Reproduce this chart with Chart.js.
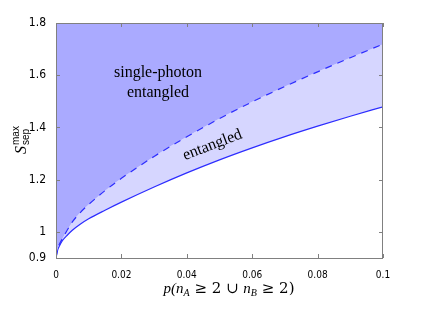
<!DOCTYPE html>
<html lang="en">
<head>
    <meta charset="UTF-8">
    <title>S_sep max</title>
    <style>
        html, body { margin: 0; padding: 0; background: #fff; }
        #wrap { width: 436px; height: 314px; }
    </style>
    <script src="https://cdn.jsdelivr.net/npm/chart.js"></script>
</head>
<body>
    <div id="wrap"><canvas id="chart" width="436" height="314"></canvas></div>

    <script>
        // values
        const pValues = [0, 0.0005, 0.001, 0.002, 0.0035, 0.005, 0.0075, 0.01, 0.015, 0.02, 0.03, 0.04, 0.05, 0.06, 0.07, 0.08, 0.09, 0.1];
        const entangledBound = [0.9, 0.93, 0.945, 0.967, 0.988, 1.006, 1.03, 1.05, 1.083, 1.114, 1.172, 1.226, 1.276, 1.322, 1.365, 1.405, 1.443, 1.479];
        const singlePhotonBound = [0.9, 0.936, 0.952, 0.975, 1.008, 1.038, 1.075, 1.105, 1.158, 1.205, 1.289, 1.364, 1.434, 1.498, 1.557, 1.613, 1.667, 1.719];
        const xTicks = [0, 0.02, 0.04, 0.06, 0.08, 0.1];
        const yTicks = [0.9, 1, 1.2, 1.4, 1.6, 1.8];

        const lineBlue = 'rgb(45,45,255)';
        const frameGrey = '#808080';
        const tickFamily = '"Liberation Sans Narrow", "DejaVu Sans Condensed", "Liberation Sans"';

        const toPoints = (ys) => pValues.map((p, i) => ({ x: p, y: ys[i] }));

        // frame, inward ticks and the math-style texts
        const decorations = {
            id: 'decorations',
            afterDraw(chart) {
                const ctx = chart.ctx;
                const a = chart.chartArea;
                const xs = chart.scales.x;
                const ys = chart.scales.y;
                ctx.save();
                ctx.strokeStyle = frameGrey;
                ctx.lineWidth = 1;
                ctx.strokeRect(a.left + 0.5, a.top + 0.5, a.right - a.left - 1, a.bottom - a.top);
                ctx.beginPath();
                xTicks.forEach(v => {
                    const px = Math.round(xs.getPixelForValue(v)) + 0.5;
                    ctx.moveTo(px, a.bottom); ctx.lineTo(px, a.bottom - 4);
                    ctx.moveTo(px, a.top); ctx.lineTo(px, a.top + 4);
                });
                yTicks.forEach(v => {
                    const py = Math.round(ys.getPixelForValue(v)) + 0.5;
                    ctx.moveTo(a.left, py); ctx.lineTo(a.left + 4, py);
                    ctx.moveTo(a.right, py); ctx.lineTo(a.right - 4, py);
                });
                ctx.stroke();

                // region labels
                ctx.fillStyle = '#000';
                ctx.font = '16px "Liberation Serif"';
                ctx.textAlign = 'center';
                ctx.textBaseline = 'alphabetic';
                ctx.fillText('single-photon', 158, 77);
                ctx.fillText('entangled', 158, 97);
                ctx.save();
                ctx.translate(214, 149);
                ctx.rotate(-21 * Math.PI / 180);
                ctx.fillText('entangled', 0, 0);
                ctx.restore();

                // y title: S_sep^max
                ctx.save();
                ctx.translate(26, 154);
                ctx.rotate(-Math.PI / 2);
                ctx.textAlign = 'left';
                ctx.font = 'italic 16px "Liberation Serif"';
                ctx.fillText('S', 0, 0);
                const sw = ctx.measureText('S').width;
                ctx.font = '10px "Liberation Sans"';
                ctx.fillText('max', sw + 1, -7);
                ctx.fillText('sep', sw + 1, 3);
                ctx.restore();

                // x title: p(n_A >= 2 U n_B >= 2)
                const parts = [
                    ['p(', 'italic 15px "Liberation Serif"', 0],
                    ['n', 'italic 15px "Liberation Serif"', 0],
                    ['A', 'italic 10px "Liberation Serif"', 3],
                    [' \u2265 2 \u222A ', '15px "DejaVu Serif"', 0],
                    ['n', 'italic 15px "Liberation Serif"', 0],
                    ['B', 'italic 10px "Liberation Serif"', 3],
                    [' \u2265 2)', '15px "DejaVu Serif"', 0],
                ];
                let total = 0;
                parts.forEach(pt => { ctx.font = pt[1]; total += ctx.measureText(pt[0]).width; });
                let cx = 229 - total / 2;
                ctx.textAlign = 'left';
                parts.forEach(pt => {
                    ctx.font = pt[1];
                    ctx.fillText(pt[0], cx, 293 + pt[2]);
                    cx += ctx.measureText(pt[0]).width;
                });
                ctx.restore();
            }
        };

        const ctx = document.getElementById('chart').getContext('2d');
        new Chart(ctx, {
            type: 'line',
            data: {
                datasets: [
                    {
                        label: 'single-photon entangled bound',
                        data: toPoints(singlePhotonBound),
                        borderColor: lineBlue,
                        borderWidth: 1.2,
                        borderDash: [7, 6],
                        backgroundColor: 'rgb(170,170,255)',
                        fill: 'end',
                        pointRadius: 0,
                        cubicInterpolationMode: 'monotone',
                    },
                    {
                        label: 'entangled bound',
                        data: toPoints(entangledBound),
                        borderColor: lineBlue,
                        borderWidth: 1.2,
                        backgroundColor: 'rgb(214,214,255)',
                        fill: '-1',
                        pointRadius: 0,
                        cubicInterpolationMode: 'monotone',
                    },
                ],
            },
            options: {
                responsive: false,
                animation: false,
                layout: { padding: { left: 0, right: 53, top: 23, bottom: 0 } },
                plugins: {
                    legend: { display: false },
                    tooltip: { enabled: false },
                },
                scales: {
                    x: {
                        type: 'linear',
                        min: 0,
                        max: 0.1,
                        grid: { display: false },
                        border: { display: false },
                        afterBuildTicks: (scale) => { scale.ticks = xTicks.map(v => ({ value: v })); },
                        afterFit: (scale) => { scale.height = 56; },
                        ticks: {
                            padding: 3,
                            color: '#000',
                            font: { family: tickFamily, size: 10 },
                            callback: (v) => String(parseFloat(v.toFixed(2))),
                        },
                    },
                    y: {
                        min: 0.9,
                        max: 1.8,
                        grid: { display: false },
                        border: { display: false },
                        afterBuildTicks: (scale) => { scale.ticks = yTicks.map(v => ({ value: v })); },
                        afterFit: (scale) => { scale.width = 56; },
                        ticks: {
                            padding: 2,
                            color: '#000',
                            font: { family: tickFamily, size: 12 },
                            callback: (v) => String(parseFloat(v.toFixed(1))),
                        },
                    },
                },
            },
            plugins: [decorations],
        });
    </script>
</body>
</html>
